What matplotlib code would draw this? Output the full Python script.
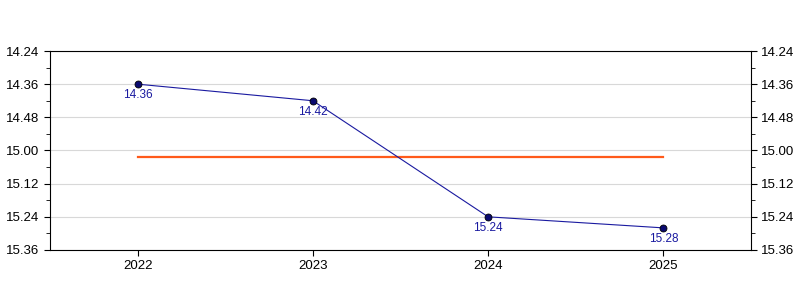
import matplotlib.pyplot as plt
import numpy as np
from matplotlib.ticker import MultipleLocator, FuncFormatter

plt.rcParams['font.family'] = ['Liberation Sans', 'DejaVu Sans']

years = ['2022', '2023', '2024', '2025']
times = ['14.36', '14.42', '15.24', '15.28']  # minutes.seconds


def to_sec(t):
    m, s = t.split('.')
    return int(m) * 60 + int(s)


secs = np.array([to_sec(t) for t in times])
avg = secs.mean()


def fmt(v, pos):
    v = int(round(v))
    return "%d.%02d" % (v // 60, v % 60)


fig = plt.figure(figsize=(8, 3), dpi=100)
ax = fig.add_axes([0.0625, 0.1667, 0.87625, 0.6633])
x = np.arange(len(years))

ax.plot([x[0], x[-1]], [avg, avg], color='#ff5a1a', linewidth=1.6, zorder=2)
ax.plot(x, secs, color='#1a1aa0', linewidth=0.8, marker='o', markersize=5,
        markerfacecolor='#0a0a70', markeredgecolor='black', markeredgewidth=0.6, zorder=3)
for xi, yi, t in zip(x, secs, times):
    ax.annotate(t, (xi, yi), xytext=(0, -3.5), textcoords='offset points',
                ha='center', va='top', fontsize=8.5, color='#1a1aa0')

ax.set_xlim(-0.5, len(years) - 0.5)
ax.set_xticks(x)
ax.set_xticklabels(years)
ax.set_ylim(936, 864)
ax.yaxis.set_major_locator(MultipleLocator(12))
ax.yaxis.set_minor_locator(MultipleLocator(6))
ax.yaxis.set_major_formatter(FuncFormatter(fmt))
ax.tick_params(axis='y', which='both', right=True, labelright=True, direction='out')
ax.tick_params(axis='both', which='major', labelsize=9.5, length=4)
ax.tick_params(axis='y', which='minor', length=3)
ax.grid(axis='y', which='major', color='#d8d8d8', linewidth=0.8)
ax.set_axisbelow(True)

fig.savefig('out.png', dpi=100)
